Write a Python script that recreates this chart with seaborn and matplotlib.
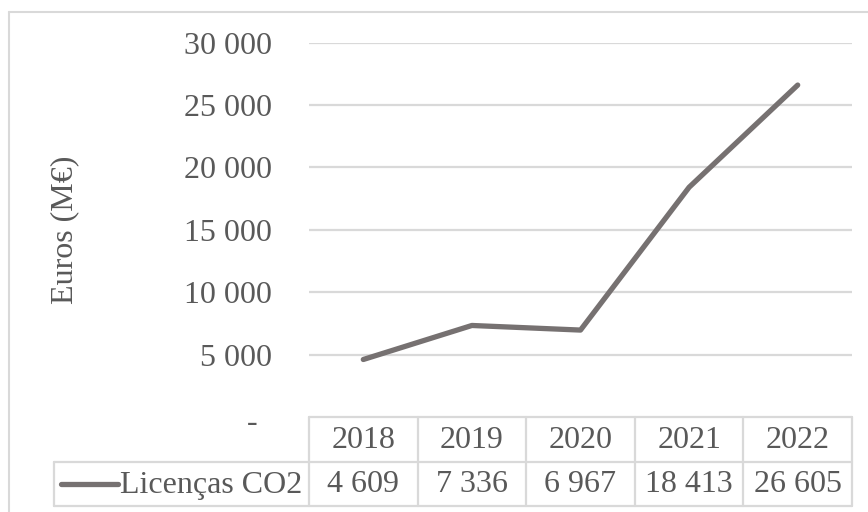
import matplotlib
matplotlib.use("Agg")
import matplotlib.pyplot as plt
import matplotlib.transforms as mtransforms
from matplotlib.lines import Line2D
import seaborn as sns
import pandas as pd

# Data
years = ["2018", "2019", "2020", "2021", "2022"]
licencas_co2 = [4609, 7336, 6967, 18413, 26605]
series_name = "Licenças CO2"
y_ticks = [0, 5000, 10000, 15000, 20000, 25000, 30000]
y_label = "Euros (M€)"

TEXT = "#595959"
GRID = "#D9D9D9"
LINE = "#767171"
W, H = 868, 512

sns.set_theme(style="white")
plt.rcParams["font.family"] = ["Liberation Serif", "DejaVu Serif"]
FS = 23

def fmt(v):
    return "-" if v == 0 else f"{v:,}".replace(",", " ")

df = pd.DataFrame({"pos": range(len(years)), "value": licencas_co2})

fig = plt.figure(figsize=(W / 100, H / 100), dpi=100)
fig.patch.set_facecolor("white")

# pixel coordinates with origin at the top-left corner
px = mtransforms.Affine2D().scale(1 / W, -1 / H).translate(0, 1) + fig.transFigure

x0, x1 = 309, 852
y_top, y_zero = 42.7, 417
ax = fig.add_axes([x0 / W, 1 - y_zero / H, (x1 - x0) / W, (y_zero - y_top) / H])

sns.lineplot(data=df, x="pos", y="value", ax=ax, color=LINE, linewidth=3.8,
             solid_capstyle="round", legend=False)

ax.set_xlim(-0.5, len(years) - 0.5)
ax.set_ylim(0, 30000)
ax.set_yticks(y_ticks)
ax.set_yticklabels([fmt(v) for v in y_ticks], color=TEXT, fontsize=FS)
ax.tick_params(axis="y", length=0, pad=27)
ax.set_xticks([])
ax.set_xlabel("")
ax.set_ylabel("")
for s in ax.spines.values():
    s.set_visible(False)
for v in y_ticks[1:]:
    ax.axhline(v, color=GRID, linewidth=1.6, zorder=0)

# shift the "-" label for zero a little to the left
lbl0 = ax.get_yticklabels()[0]
lbl0.set_transform(lbl0.get_transform() +
                   mtransforms.ScaledTranslation(-14 / 100, -3 / 100, fig.dpi_scale_trans))

fig.text(65 / W, 1 - 230 / H, y_label, rotation=90, ha="center", va="center",
         color=TEXT, fontsize=FS)

# data table below the plot
blend = mtransforms.blended_transform_factory(ax.transData, px)
row1_top, row1_bot, row2_bot = 417, 462, 506
label_left = 54
tw = 1.6
n = len(years)
# horizontal lines
fig.add_artist(Line2D([-0.5, n - 0.5], [row1_top, row1_top], transform=blend, color=GRID, lw=tw))
fig.add_artist(Line2D([label_left, x1], [row1_bot, row1_bot], transform=px, color=GRID, lw=tw))
fig.add_artist(Line2D([label_left, x1], [row2_bot, row2_bot], transform=px, color=GRID, lw=tw))
# vertical lines
fig.add_artist(Line2D([label_left, label_left], [row1_bot, row2_bot], transform=px, color=GRID, lw=tw))
for i in range(n + 1):
    xe = i - 0.5
    fig.add_artist(Line2D([xe, xe], [row1_top, row2_bot], transform=blend, color=GRID, lw=tw))

for i, (yr, v) in enumerate(zip(years, licencas_co2)):
    fig.text(i, (row1_top + row1_bot) / 2 + 1, yr, transform=blend, ha="center", va="center",
             color=TEXT, fontsize=FS)
    fig.text(i, (row1_bot + row2_bot) / 2 + 1, fmt(v), transform=blend, ha="center", va="center",
             color=TEXT, fontsize=FS)

# legend key and series name in the label cell
ymid = (row1_bot + row2_bot) / 2
fig.add_artist(Line2D([61, 118], [ymid, ymid], transform=px, color=LINE, lw=3.8,
                      solid_capstyle="round"))
fig.text(120, ymid + 1, series_name, transform=px, ha="left", va="center",
         color=TEXT, fontsize=FS)

# chart border
fig.add_artist(Line2D([9, W], [12, 12], transform=px, color=GRID, lw=1.5))
fig.add_artist(Line2D([9, 9], [12, H], transform=px, color=GRID, lw=1.5))

fig.savefig("out.png", dpi=100, facecolor="white")
